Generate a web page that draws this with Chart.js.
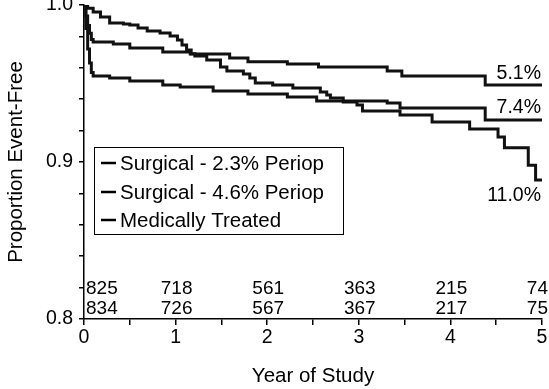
<!DOCTYPE html>
<html>
<head>
<meta charset="utf-8">
<script src="https://cdn.jsdelivr.net/npm/chart.js@4"></script>
<style>
  html, body { margin: 0; padding: 0; background: #fff; }
  #wrap { width: 549px; height: 389px; }
</style>
</head>
<body>
<div id="wrap"><canvas id="kmChart" width="549" height="389"></canvas></div>
<script>
// Curvas de supervivencia (año del estudio, proporción libre de eventos)
const surg23Years  = [0, 0.02, 0.04, 0.06, 0.08, 0.10, 0.32, 0.50, 0.86, 1.16, 1.59, 1.79, 2.22, 2.56, 3.31, 3.47, 4.38, 5.0];
const surg23Values = [1.0, 0.993, 0.987, 0.982, 0.978, 0.9764, 0.9752, 0.9726, 0.9701, 0.9688, 0.9662, 0.9639, 0.9624, 0.9605, 0.958, 0.9548, 0.949, 0.949];

const surg46Years  = [0, 0.02, 0.04, 0.06, 0.08, 0.10, 0.28, 0.50, 0.86, 1.05, 1.41, 1.79, 2.22, 2.54, 3.31, 3.45, 4.38, 5.0];
const surg46Values = [1.0, 0.985, 0.972, 0.963, 0.957, 0.9548, 0.9535, 0.9516, 0.949, 0.9478, 0.9452, 0.9433, 0.9414, 0.9389, 0.9376, 0.9344, 0.9267, 0.9267];

const medYears  = [0, 0.04, 0.10, 0.18, 0.28, 0.43, 0.50, 0.59, 0.69, 0.83, 0.94, 1.02, 1.07, 1.12, 1.17, 1.21, 1.34, 1.49, 1.56, 1.74, 1.81, 1.87, 2.06, 2.28, 2.58, 2.65, 2.69, 2.83, 2.98, 3.04, 3.45, 3.80, 4.21, 4.52, 4.59, 4.85, 4.93, 5.0];
const medValues = [1.0, 0.998, 0.9955, 0.9924, 0.9885, 0.9879, 0.9873, 0.9854, 0.9834, 0.9822, 0.9803, 0.9777, 0.9745, 0.9713, 0.969, 0.9675, 0.965, 0.9605, 0.958, 0.956, 0.9535, 0.9503, 0.949, 0.9471, 0.9446, 0.9427, 0.9408, 0.9382, 0.9363, 0.9325, 0.930, 0.9255, 0.921, 0.916, 0.909, 0.898, 0.8885, 0.8885];

const seriesLabels = ['Surgical - 2.3% Periop', 'Surgical - 4.6% Periop', 'Medically Treated'];
const endLabels = ['5.1%', '7.4%', '11.0%'];

// Números en riesgo
const atRiskYears = [0, 1, 2, 3, 4, 5];
const atRiskRow1 = [825, 718, 561, 363, 215, 74];
const atRiskRow2 = [834, 726, 567, 367, 217, 75];

// Marcas de los ejes
const xTicks = [0, 0.5, 1, 1.5, 2, 2.5, 3, 3.5, 4, 4.5, 5];
const xTickLabels = ['0', '', '1', '', '2', '', '3', '', '4', '', '5'];
const yTicks = [0.8, 0.82, 0.84, 0.86, 0.88, 0.9, 0.92, 0.94, 0.96, 0.98, 1.0];
const yTickLabels = ['0.8', '', '', '', '', '0.9', '', '', '', '', '1.0'];

const FONT = '"Liberation Sans", Arial, sans-serif';

function toPoints(xs, ys) {
    return xs.map((v, i) => ({ x: v, y: ys[i] }));
}

// Plugin para textos dentro del gráfico: números en riesgo, porcentajes y leyenda
const overlayPlugin = {
    id: 'overlay',
    afterDraw(chart) {
        const { ctx, chartArea } = chart;
        const xs = chart.scales.x;
        const ys = chart.scales.y;
        ctx.save();
        ctx.fillStyle = '#000';
        ctx.textBaseline = 'middle';

        // números en riesgo
        ctx.font = '19px ' + FONT;
        atRiskYears.forEach((yr, i) => {
            let px = xs.getPixelForValue(yr);
            if (i === 0) {
                ctx.textAlign = 'left';
                px += 2;
            } else if (i === atRiskYears.length - 1) {
                ctx.textAlign = 'right';
                px += 6;
            } else {
                ctx.textAlign = 'center';
                px += 1;
            }
            ctx.fillText(String(atRiskRow1[i]), px, chartArea.bottom - 30);
            ctx.fillText(String(atRiskRow2[i]), px, chartArea.bottom - 10);
        });

        // porcentajes al final de cada curva
        const finals = [surg23Values, surg46Values, medValues].map(a => a[a.length - 1]);
        const offsets = [-11, -12, 16];
        ctx.font = '19.5px ' + FONT;
        ctx.textAlign = 'right';
        endLabels.forEach((txt, i) => {
            ctx.fillText(txt, chartArea.right - 1, ys.getPixelForValue(finals[i]) + offsets[i]);
        });

        // leyenda con recuadro
        const bx = chartArea.left + 10;
        const by = chartArea.top + 142;
        const bw = 249;
        const bh = 87;
        ctx.strokeStyle = '#000';
        ctx.lineWidth = 1;
        ctx.strokeRect(bx + 0.5, by + 0.5, bw, bh);
        ctx.font = '20.5px ' + FONT;
        ctx.textAlign = 'left';
        const rows = [16, 45, 73];
        seriesLabels.forEach((lbl, i) => {
            const cy = by + rows[i];
            ctx.lineWidth = 2.5;
            ctx.beginPath();
            ctx.moveTo(bx + 7, cy);
            ctx.lineTo(bx + 22, cy);
            ctx.stroke();
            ctx.fillText(lbl, bx + 26, cy + 1);
        });
        ctx.restore();
    }
};

function makeDataset(label, xs, ys) {
    return {
        label: label,
        data: toPoints(xs, ys),
        borderColor: '#111',
        borderWidth: 3,
        pointRadius: 0,
        fill: false,
        stepped: 'before',
        tension: 0
    };
}

function initChart() {
    const ctx = document.getElementById('kmChart').getContext('2d');
    new Chart(ctx, {
        type: 'line',
        data: {
            datasets: [
                makeDataset(seriesLabels[0], surg23Years, surg23Values),
                makeDataset(seriesLabels[1], surg46Years, surg46Values),
                makeDataset(seriesLabels[2], medYears, medValues)
            ]
        },
        options: {
            responsive: false,
            animation: false,
            events: [],
            layout: { padding: { top: 5, right: 7, left: 0, bottom: 0 } },
            plugins: {
                legend: { display: false },
                tooltip: { enabled: false }
            },
            scales: {
                x: {
                    type: 'linear',
                    min: 0,
                    max: 5,
                    afterBuildTicks: scale => { scale.ticks = xTicks.map(v => ({ value: v })); },
                    afterFit: scale => {
                        scale.height = 70;
                        scale.paddingLeft = 0;
                        scale.paddingRight = 0;
                    },
                    grid: { drawOnChartArea: false, drawTicks: true, tickLength: 6, color: '#000', lineWidth: 1.5 },
                    border: { color: '#000', width: 1.5 },
                    ticks: {
                        autoSkip: false,
                        maxRotation: 0,
                        padding: 1,
                        color: '#000',
                        font: { family: FONT, size: 19.5 },
                        callback: (v, i) => xTickLabels[i]
                    },
                    title: {
                        display: true,
                        text: 'Year of Study',
                        color: '#000',
                        font: { family: FONT, size: 20.5 },
                        padding: { top: 0, bottom: 0 }
                    }
                },
                y: {
                    min: 0.8,
                    max: 1.0,
                    afterBuildTicks: scale => { scale.ticks = yTicks.map(v => ({ value: v })); },
                    afterFit: scale => {
                        scale.width = 84;
                        scale.paddingTop = 0;
                        scale.paddingBottom = 0;
                    },
                    grid: { drawOnChartArea: false, drawTicks: true, tickLength: 5, color: '#000', lineWidth: 1.5 },
                    border: { color: '#000', width: 1.5 },
                    ticks: {
                        autoSkip: false,
                        padding: 6,
                        color: '#000',
                        font: { family: FONT, size: 19.5 },
                        callback: (v, i) => yTickLabels[i]
                    },
                    title: {
                        display: true,
                        text: 'Proportion Event-Free',
                        color: '#000',
                        font: { family: FONT, size: 20.5 },
                        padding: { top: 4, bottom: 0 }
                    }
                }
            }
        },
        plugins: [overlayPlugin]
    });
}

document.addEventListener('DOMContentLoaded', initChart);
</script>
</body>
</html>
